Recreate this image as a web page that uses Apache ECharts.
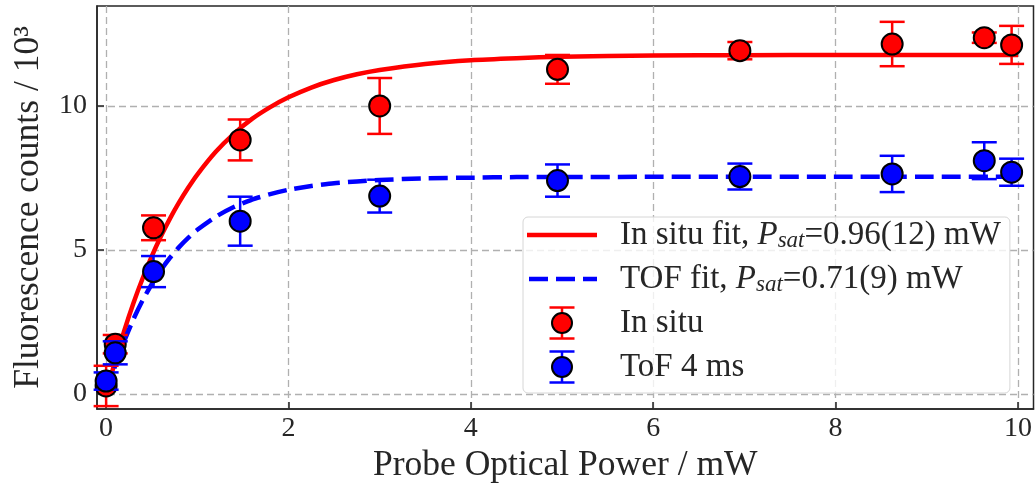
<!DOCTYPE html>
<html><head><meta charset="utf-8">
<script src="https://cdn.jsdelivr.net/npm/echarts@6/dist/echarts.min.js"></script>
<style>html,body{margin:0;padding:0;background:#fff}#c{width:1035px;height:489px}</style>
</head><body><div id="c"></div>
<script>
// ---- data ----
const power      = [0.0, 0.1, 0.52, 1.47, 3.0, 4.95, 6.95, 8.62, 9.63, 9.93];
const inSitu     = [0.28, 1.73, 5.77, 8.82, 10.0, 11.27, 11.92, 12.15, 12.37, 12.12];
const inSituErr  = [0.7, 0.32, 0.43, 0.71, 0.97, 0.5, 0.3, 0.77, 0.18, 0.66];
const tof        = [0.45, 1.43, 4.25, 6.0, 6.87, 7.41, 7.55, 7.64, 8.1, 7.7];
const tofErr     = [0.3, 0.4, 0.54, 0.85, 0.57, 0.56, 0.45, 0.63, 0.64, 0.47];
const fitX       = [0, 0.1, 0.2, 0.3, 0.4, 0.5, 0.6, 0.7, 0.8, 0.9, 1.0, 1.2, 1.4, 1.6, 1.8, 2.0, 2.25, 2.5, 2.75, 3.0, 3.5, 4, 4.5, 5, 6, 7, 8, 9, 10];
const inSituFit  = [0, 1.16, 2.21, 3.16, 4.01, 4.78, 5.47, 6.09, 6.65, 7.16, 7.62, 8.40, 9.03, 9.55, 9.96, 10.30, 10.64, 10.90, 11.10, 11.25, 11.46, 11.59, 11.66, 11.71, 11.75, 11.76, 11.77, 11.77, 11.77];
const tofFit     = [0, 0.99, 1.85, 2.60, 3.25, 3.81, 4.30, 4.73, 5.10, 5.42, 5.70, 6.15, 6.49, 6.75, 6.94, 7.09, 7.22, 7.32, 7.38, 7.43, 7.49, 7.51, 7.53, 7.53, 7.54, 7.54, 7.54, 7.54, 7.54];
const xTicks     = [0, 2, 4, 6, 8, 10];
const yTicks     = [0, 5, 10];
const names = ['In situ fit, Psat=0.96(12) mW', 'TOF fit, Psat=0.71(9) mW', 'In situ', 'ToF 4 ms'];

// ---- styling ----
const FONT = "'Liberation Serif', 'DejaVu Serif', serif";
const TXT = '#262626';
const RED = '#ff0000', BLUE = '#0000ff';

function svgIcon(svg) {
  return 'image://data:image/svg+xml;charset=utf-8,' + encodeURIComponent(svg);
}
const W = 70, H = 34;
const iconLine = svgIcon(`<svg xmlns="http://www.w3.org/2000/svg" width="${W}" height="${H}"><line x1="0" y1="17" x2="70" y2="17" stroke="${RED}" stroke-width="4.5"/></svg>`);
const iconDash = svgIcon(`<svg xmlns="http://www.w3.org/2000/svg" width="${W}" height="${H}"><line x1="2" y1="17" x2="70" y2="17" stroke="${BLUE}" stroke-width="4.5" stroke-dasharray="19,8"/></svg>`);
function iconPt(c) {
  return svgIcon(`<svg xmlns="http://www.w3.org/2000/svg" width="${W}" height="${H}"><g stroke="${c}" stroke-width="2.5"><line x1="35" y1="1.5" x2="35" y2="32.5"/><line x1="22.5" y1="1.5" x2="47.5" y2="1.5"/><line x1="22.5" y1="32.5" x2="47.5" y2="32.5"/></g><circle cx="35" cy="17" r="10" fill="${c}" stroke="#000" stroke-width="2"/></svg>`);
}

const legendText = {};
legendText[names[0]] = '{n|In situ fit, }{i|P}{s|sat}{n|=0.96(12) mW}';
legendText[names[1]] = '{n|TOF fit, }{i|P}{s|sat}{n|=0.71(9) mW}';
legendText[names[2]] = '{n|In situ}';
legendText[names[3]] = '{n|ToF 4 ms}';

function errSeries(name, xs, ys, es, color, z) {
  return {
    type: 'custom', name: name, z: z, silent: true,
    data: xs.map((x, i) => [x, ys[i] - es[i], ys[i] + es[i]]),
    encode: { x: 0, y: [1, 2] },
    renderItem: function (params, api) {
      const lo = api.coord([api.value(0), api.value(1)]);
      const hi = api.coord([api.value(0), api.value(2)]);
      const hw = 12.5;
      const st = { stroke: color, lineWidth: 2.5, fill: null };
      return {
        type: 'group', children: [
          { type: 'line', shape: { x1: lo[0], y1: lo[1], x2: hi[0], y2: hi[1] }, style: st },
          { type: 'line', shape: { x1: lo[0] - hw, y1: lo[1], x2: lo[0] + hw, y2: lo[1] }, style: st },
          { type: 'line', shape: { x1: hi[0] - hw, y1: hi[1], x2: hi[0] + hw, y2: hi[1] }, style: st }
        ]
      };
    }
  };
}

const chart = echarts.init(document.getElementById('c'), null, { renderer: 'canvas' });
const gridLine = { show: true, lineStyle: { color: '#b0b0b0', width: 1.3, type: [7, 4] } };
chart.setOption({
  animation: false,
  backgroundColor: '#fff',
  grid: { left: 97, right: 0, top: 6, bottom: 80, show: true, borderColor: TXT, borderWidth: 1.5, backgroundColor: 'transparent' },
  xAxis: {
    type: 'value', min: -0.1, max: 10.17,
    name: 'Probe Optical Power / mW', nameLocation: 'middle', nameGap: 39,
    nameTextStyle: { fontFamily: FONT, fontSize: 35.5, color: TXT },
    axisLine: { show: true, onZero: false, lineStyle: { color: TXT, width: 1.5 } },
    axisTick: { show: true, inside: true, length: 7, customValues: xTicks, lineStyle: { color: TXT, width: 1.5 } },
    axisLabel: { customValues: xTicks, fontFamily: FONT, fontSize: 28, color: TXT, margin: 6 },
    splitLine: gridLine
  },
  yAxis: {
    type: 'value', min: -0.52, max: 13.47,
    name: 'Fluorescence counts / 10³', nameLocation: 'middle', nameGap: 50,
    nameTextStyle: { fontFamily: FONT, fontSize: 35.5, color: TXT },
    axisLine: { show: true, onZero: false, lineStyle: { color: TXT, width: 1.5 } },
    axisTick: { show: true, inside: true, length: 7, customValues: yTicks, lineStyle: { color: TXT, width: 1.5 } },
    axisLabel: { customValues: yTicks, fontFamily: FONT, fontSize: 28, color: TXT, margin: 10 },
    splitLine: gridLine
  },
  legend: {
    orient: 'vertical', left: 523, top: 217,
    data: [
      { name: names[0], icon: iconLine },
      { name: names[1], icon: iconDash },
      { name: names[2], icon: iconPt(RED) },
      { name: names[3], icon: iconPt(BLUE) }
    ],
    selectedMode: false,
    itemWidth: W, itemHeight: H, itemGap: 10,
    padding: [1, 9, 9, 4],
    backgroundColor: 'rgba(255,255,255,0.8)', borderColor: '#d6d6d6', borderWidth: 1, borderRadius: 5,
    formatter: function (n) { return legendText[n]; },
    textStyle: {
      fontFamily: FONT, fontSize: 33, color: TXT, lineHeight: 34, padding: [0, 0, 0, 18],
      rich: {
        n: { fontFamily: FONT, fontSize: 33, color: TXT, lineHeight: 34 },
        i: { fontFamily: FONT, fontSize: 33, color: TXT, lineHeight: 34, fontStyle: 'italic' },
        s: { fontFamily: FONT, fontSize: 23, color: TXT, lineHeight: 18, fontStyle: 'italic', verticalAlign: 'bottom' }
      }
    }
  },
  series: [
    { type: 'line', name: names[0], z: 2, data: fitX.map((x, i) => [x, inSituFit[i]]), showSymbol: false, symbol: 'none', smooth: 0.2,
      lineStyle: { color: RED, width: 4.5 }, itemStyle: { color: RED } },
    { type: 'line', name: names[1], z: 2, data: fitX.map((x, i) => [x, tofFit[i]]), showSymbol: false, symbol: 'none', smooth: 0.2,
      lineStyle: { color: BLUE, width: 4.5, type: [19, 8] }, itemStyle: { color: BLUE } },
    errSeries(names[2], power, inSitu, inSituErr, RED, 3),
    { type: 'scatter', name: names[2], z: 4, data: power.map((x, i) => [x, inSitu[i]]), symbol: 'circle', symbolSize: 21,
      itemStyle: { color: RED, borderColor: '#000', borderWidth: 2, opacity: 1 } },
    errSeries(names[3], power, tof, tofErr, BLUE, 5),
    { type: 'scatter', name: names[3], z: 6, data: power.map((x, i) => [x, tof[i]]), symbol: 'circle', symbolSize: 21,
      itemStyle: { color: BLUE, borderColor: '#000', borderWidth: 2, opacity: 1 } }
  ]
});
</script>
</body></html>
